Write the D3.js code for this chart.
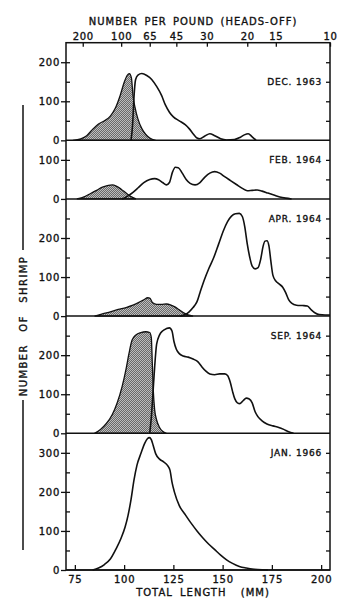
<!DOCTYPE html>
<html>
<head>
<meta charset="utf-8">
<script src="https://cdn.jsdelivr.net/npm/d3@7"></script>
<style>
  body { margin: 0; background: #fff; }
  text { font-family: "DejaVu Sans", sans-serif; fill: #111; stroke: #111; stroke-width: 0.35px; }
</style>
</head>
<body>
<svg width="350" height="615"></svg>
<script>
// panel names and count range of each panel (top to bottom)
var panelNames = ["DEC. 1963", "FEB. 1964", "APR. 1964", "SEP. 1964", "JAN. 1966"];
var panelMax = [250, 150, 300, 300, 350];
var panelLabelAt = [150, 100, 250, 250, 300];

// bottom axis: total length (mm)
var lengthTicks = [75, 100, 125, 150, 175, 200];
// top axis: number per pound (heads-off) and the length each one sits at
var countTicks = [200, 100, 65, 45, 30, 20, 15, 10];
var countTickLength = [79, 98.5, 113, 126.5, 142, 162.5, 177, 204.5];

// [length mm, number of shrimp]  hatched = shaded group, open = outlined group
var dec1963Hatched = [[74,0],[78,4],[81,12],[84,28],[87,42],[90,50],[93,62],[95.5,82],[98,115],[100,148],[101.5,166],[102.7,171],[103.7,160],[104.5,115],[105.5,85],[107,55],[109,30],[111,15],[113,6],[116,0]];
var dec1963Open = [[103.5,0],[104.3,40],[105,110],[105.8,155],[107,167],[109,171],[111.5,166],[114,156],[116.5,138],[119,115],[121,90],[123,72],[125,60],[128,50],[131,40],[133,30],[135,17],[137,6],[138.5,4],[141,11],[143.5,17],[146,12],[149,4],[152,1],[156,2],[159,8],[161,14],[163,17],[165,9],[167,0]];

var feb1964Hatched = [[76,0],[80,6],[83,14],[86,22],[89,30],[92,35],[94,36],[96,33],[98.5,25],[101,15],[103.5,6],[106,0]];
var feb1964Open = [[99,0],[102,8],[104.5,17],[107,28],[110,42],[113,50],[115.5,52],[117.5,49],[119.5,42],[121.5,36],[123,42],[124.5,68],[126,81],[127.5,80],[129.5,66],[131.5,50],[133.5,40],[136,36],[138.5,42],[141,56],[143.5,66],[146,70],[148.5,66],[151,57],[154,47],[157,37],[160,27],[162.5,21],[165,22],[167.5,23],[170,20],[173,15],[176,10],[179,5],[182,2],[185,0]];

var apr1964Hatched = [[85,0],[89,6],[93,11],[97,17],[101,22],[104.5,28],[107.5,35],[110,42],[112,47],[113,46],[114.5,34],[116.5,30],[119,30],[121.5,31],[123.5,29],[126,23],[128,16],[130,9],[132.5,3],[135,0]];
var apr1964Open = [[128.5,0],[131,4],[133,11],[135,22],[137,37],[138.5,60],[140.5,90],[143,122],[145.5,150],[148,185],[150.5,220],[152.5,242],[154.5,256],[156.5,262],[158.5,263],[160,255],[161.2,230],[162.5,185],[163.8,150],[165,128],[166.5,121],[168,124],[169.3,145],[170.5,178],[171.5,192],[172.5,193],[173.5,180],[174.5,140],[175.5,105],[177,90],[178.5,83],[180.5,74],[182,60],[183.5,42],[185,33],[187.5,28],[190.5,27],[193,26],[195,16],[197,8],[199,4],[202,3],[204.5,3]];

var sep1964Hatched = [[85,0],[88,10],[91,25],[94,48],[96.5,78],[99,120],[101,165],[102.5,205],[104,238],[106,252],[108.5,258],[111,260],[113,258],[113.8,245],[114.3,180],[114.8,110],[115.5,60],[116.5,34],[118,15],[119.5,5],[121.5,0]];
var sep1964Open = [[113,0],[113.8,40],[114.6,100],[115.5,170],[116.5,228],[118,252],[119.5,262],[121.5,268],[123,270],[124.3,262],[125.3,235],[126.5,215],[128,204],[130,198],[132.5,195],[135,190],[137.5,183],[139.5,170],[141.5,159],[143.5,152],[146,150],[148.5,152],[151,152],[152.5,148],[153.8,132],[155,108],[156.2,88],[157.5,78],[158.8,76],[160.5,84],[162,90],[163.5,88],[165,78],[166.5,55],[168,42],[170,32],[172.5,24],[175.5,19],[178.5,15],[181,10],[183.5,4],[186,0]];

var jan1966Open = [[84,0],[87,5],[90,14],[93,28],[96,55],[98.5,82],[100.5,110],[102,140],[103.5,180],[105,230],[106.5,268],[108.5,298],[110.5,325],[111.8,336],[112.8,339],[113.8,334],[114.8,318],[116,298],[118,284],[120,277],[122,268],[123.3,255],[124.3,225],[125.5,200],[128,165],[131,142],[134,120],[137,100],[140,82],[143,66],[146,52],[149,38],[152,26],[155,17],[158.5,9],[162,5],[166,2],[170,0.5],[173,0]];

var hatchedSeries = [dec1963Hatched, feb1964Hatched, apr1964Hatched, sep1964Hatched, null];
var openSeries = [dec1963Open, feb1964Open, apr1964Open, sep1964Open, jan1966Open];

// frame
var frameLeft = 66, frameRight = 330, frameTop = 42.7, frameBottom = 570;
var svg = d3.select("svg");

// fine diagonal shading
var defs = svg.append("defs");
var pat = defs.append("pattern")
    .attr("id", "hatch")
    .attr("patternUnits", "userSpaceOnUse")
    .attr("width", 2).attr("height", 2);
pat.append("rect").attr("width", 2).attr("height", 2).attr("fill", "#bdbdbd");
pat.append("path")
    .attr("d", "M-1,1 l2,-2 M0,2 l2,-2 M1,3 l2,-2")
    .attr("stroke", "#333")
    .attr("stroke-width", 0.6);

var x = d3.scaleLinear().domain([70.5, 204.5]).range([frameLeft, frameRight]);

var pxPerCount = (frameBottom - frameTop) / d3.sum(panelMax);
var y0 = frameTop;

function styleAxis(a) {
    a.select(".domain").remove();
    a.selectAll("line").attr("stroke", "#111").attr("stroke-width", 1.3);
    a.selectAll("text")
        .style("font-family", "DejaVu Sans")
        .style("font-size", "10px")
        .style("letter-spacing", "0.7px")
        .attr("fill", "#111");
}

panelNames.forEach(function(name, i) {
    var h = panelMax[i] * pxPerCount;
    var y = d3.scaleLinear().domain([0, panelMax[i]]).range([y0 + h, y0]);
    var g = svg.append("g");

    var area = d3.area()
        .x(function(d) { return x(d[0]); })
        .y0(y(0))
        .y1(function(d) { return y(d[1]); })
        .curve(d3.curveMonotoneX);
    var line = d3.line()
        .x(function(d) { return x(d[0]); })
        .y(function(d) { return y(d[1]); })
        .curve(d3.curveMonotoneX);

    if (hatchedSeries[i]) {
        g.append("path")
            .datum(hatchedSeries[i])
            .attr("d", area)
            .attr("fill", "url(#hatch)")
            .attr("stroke", "#111")
            .attr("stroke-width", 1.3);
    }
    g.append("path")
        .datum(openSeries[i])
        .attr("d", line)
        .attr("fill", "none")
        .attr("stroke", "#111")
        .attr("stroke-width", 1.6);

    // labelled ticks on the left (outward)
    var major = d3.range(0, panelMax[i], 100);
    var minor = d3.range(50, panelMax[i], 50);
    g.append("g")
        .attr("transform", "translate(" + frameLeft + ",0)")
        .call(d3.axisLeft(y).tickValues(major).tickSize(5).tickPadding(1))
        .call(styleAxis);
    // small inward ticks on both sides
    g.append("g")
        .attr("transform", "translate(" + frameLeft + ",0)")
        .call(d3.axisLeft(y).tickValues(minor).tickSize(-4).tickFormat(""))
        .call(styleAxis);
    g.append("g")
        .attr("transform", "translate(" + frameRight + ",0)")
        .call(d3.axisRight(y).tickValues(minor).tickSize(-4).tickFormat(""))
        .call(styleAxis);

    // panel separator / baseline
    g.append("line")
        .attr("x1", frameLeft).attr("x2", frameRight)
        .attr("y1", y(0)).attr("y2", y(0))
        .attr("stroke", "#111").attr("stroke-width", 1.5);

    g.append("text")
        .attr("x", frameRight - 8)
        .attr("y", y(panelLabelAt[i]))
        .attr("dy", "0.35em")
        .attr("text-anchor", "end")
        .style("font-size", "9px")
        .style("letter-spacing", "0.8px")
        .text(name);

    y0 += h;
});

// frame
svg.append("rect")
    .attr("x", frameLeft).attr("y", frameTop)
    .attr("width", frameRight - frameLeft).attr("height", frameBottom - frameTop)
    .attr("fill", "none")
    .attr("stroke", "#111")
    .attr("stroke-width", 1.5);

// bottom axis
svg.append("g")
    .attr("transform", "translate(0," + frameBottom + ")")
    .call(d3.axisBottom(x).tickValues(lengthTicks).tickSize(-5).tickPadding(6))
    .call(styleAxis);

// top axis
svg.append("g")
    .attr("transform", "translate(0," + frameTop + ")")
    .call(d3.axisTop(x).tickValues(countTickLength).tickSize(-4).tickPadding(3)
        .tickFormat(function(d, i) { return countTicks[i]; }))
    .call(styleAxis);

// titles
svg.append("text")
    .attr("x", 193).attr("y", 25)
    .attr("text-anchor", "middle")
    .style("font-size", "10px")
    .style("letter-spacing", "1px")
    .style("word-spacing", "2px")
    .text("NUMBER PER POUND (HEADS-OFF)");

svg.append("text")
    .attr("x", 203).attr("y", 596)
    .attr("text-anchor", "middle")
    .style("font-size", "10px")
    .style("letter-spacing", "1px")
    .style("word-spacing", "3px")
    .style("white-space", "pre")
    .text("TOTAL LENGTH  (MM)");

svg.append("text")
    .attr("transform", "translate(27,326)rotate(-90)")
    .attr("text-anchor", "middle")
    .style("font-size", "10px")
    .style("letter-spacing", "1.4px")
    .style("word-spacing", "8px")
    .text("NUMBER OF SHRIMP");

svg.append("line")
    .attr("x1", 23).attr("x2", 23).attr("y1", 105).attr("y2", 250)
    .attr("stroke", "#111").attr("stroke-width", 1.5);
svg.append("line")
    .attr("x1", 23).attr("x2", 23).attr("y1", 400).attr("y2", 550)
    .attr("stroke", "#111").attr("stroke-width", 1.5);
</script>
</body>
</html>
